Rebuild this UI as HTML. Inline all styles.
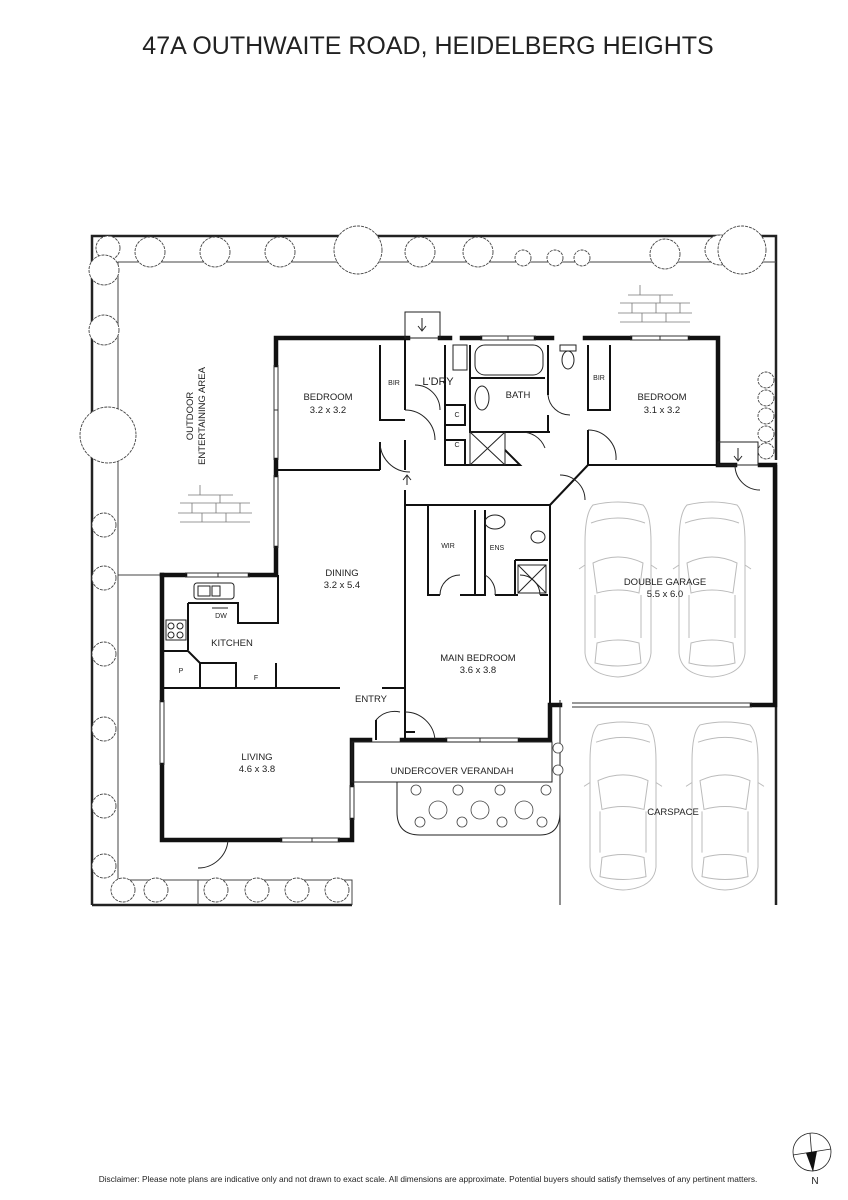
<!DOCTYPE html>
<html><head><meta charset="utf-8"><style>
html,body{margin:0;padding:0;background:#fff;}
svg{display:block;}
text{font-family:"Liberation Sans",Arial,sans-serif;fill:#222;}
</style></head><body>
<svg width="848" height="1200" viewBox="0 0 848 1200" xmlns="http://www.w3.org/2000/svg">
<defs>
<g id="car" fill="none" stroke="#bbb" stroke-width="1">
<path d="M10 2 Q35 -4 60 2 Q68 10 68 40 L68 150 Q66 172 35 174 Q4 172 2 150 L2 40 Q2 10 10 2Z"/>
<path d="M10 60 Q35 48 60 60 L56 90 Q35 84 14 90Z"/>
<path d="M14 140 Q35 134 56 140 L58 160 Q35 166 12 160Z"/>
<path d="M12 92 L12 135 M58 92 L58 135 M8 20 Q35 10 62 20"/>
<path d="M2 62 L-4 66 M68 62 L74 66"/>
</g>
</defs>

<text x="428" y="54" font-size="25" text-anchor="middle" fill="#111">47A OUTHWAITE ROAD, HEIDELBERG HEIGHTS</text>

<!-- boundary -->
<g fill="none" stroke="#222" stroke-width="2.5">
<path d="M92 905 L92 236 L776 236 L776 460"/>
<path d="M776 465 L776 905"/>
<path d="M92 905 L352 905"/>
</g>
<g fill="none" stroke="#444" stroke-width="1">
<path d="M118 880 L118 262 L776 262"/>
<path d="M118 880 L352 880 L352 905"/>
<path d="M198 880 L198 905"/>
<path d="M118 575 L162 575"/>
</g>

<!-- trees -->
<g fill="#fff" stroke="#444" stroke-width="0.9" stroke-dasharray="3 1">
<circle cx="108" cy="248" r="12"/><circle cx="150" cy="252" r="15"/><circle cx="215" cy="252" r="15"/><circle cx="280" cy="252" r="15"/>
<circle cx="358" cy="250" r="24"/><circle cx="420" cy="252" r="15"/><circle cx="478" cy="252" r="15"/><circle cx="523" cy="258" r="8"/><circle cx="555" cy="258" r="8"/><circle cx="582" cy="258" r="8"/>
<circle cx="665" cy="254" r="15"/><circle cx="720" cy="250" r="15"/><circle cx="742" cy="250" r="24"/>
<circle cx="104" cy="270" r="15"/><circle cx="104" cy="330" r="15"/><circle cx="105" cy="426" r="12"/><circle cx="108" cy="435" r="28"/>
<circle cx="104" cy="525" r="12"/><circle cx="104" cy="578" r="12"/><circle cx="104" cy="654" r="12"/><circle cx="104" cy="729" r="12"/><circle cx="104" cy="806" r="12"/><circle cx="104" cy="866" r="12"/>
<circle cx="123" cy="890" r="12"/><circle cx="156" cy="890" r="12"/><circle cx="216" cy="890" r="12"/><circle cx="257" cy="890" r="12"/><circle cx="297" cy="890" r="12"/><circle cx="337" cy="890" r="12"/>
<circle cx="766" cy="380" r="8"/><circle cx="766" cy="398" r="8"/><circle cx="766" cy="416" r="8"/><circle cx="766" cy="434" r="8"/><circle cx="766" cy="451" r="8"/>
</g>

<!-- pavers -->
<g fill="none" stroke="#777" stroke-width="0.8">
<path d="M620 303h70M618 313h74M620 322h70M628 295h45M640 285v10M660 295v8M632 303v10M656 303v10M680 303v10M642 313v9M666 313v9"/>
<path d="M180 503h70M178 513h74M180 522h70M188 495h45M200 485v10M220 495v8M192 503v10M216 503v10M240 503v10M202 513v9M226 513v9"/>
</g>

<!-- thick walls -->
<g fill="none" stroke="#111" stroke-width="4.5" stroke-linecap="square">
<path d="M276 365 L276 338 L408 338"/>
<path d="M276 460 L276 475"/>
<path d="M276 548 L276 575 L250 575"/>
<path d="M162 575 L185 575"/>
<path d="M162 575 L162 700"/>
<path d="M162 765 L162 840 L280 840"/>
<path d="M340 840 L352 840 L352 820"/>
<path d="M352 785 L352 740 L370 740"/>
<path d="M402 740 L445 740 M520 740 L550 740 L550 705 L560 705"/>
<path d="M440 338 L450 338 M462 338 L480 338 M536 338 L552 338 M585 338 L630 338 M690 338 L718 338 L718 465 L735 465"/>
<path d="M760 465 L775 465 L775 705 L752 705"/>
</g>

<!-- windows -->
<g fill="none" stroke="#333" stroke-width="1">
<path d="M274 365 L274 460 M278 365 L278 460 M274 410h4"/>
<path d="M274 475 L274 548 M278 475 L278 548"/>
<path d="M185 573 L250 573 M185 577 L250 577 M218 573v4"/>
<path d="M160 700 L160 765 M164 700 L164 765"/>
<path d="M280 838 L340 838 M280 842 L340 842 M312 838v4"/>
<path d="M350 785 L350 820 M354 785 L354 820"/>
<path d="M445 738 L520 738 M445 742 L520 742 M480 738v4"/>
<path d="M480 336 L536 336 M480 340 L536 340 M508 336v4"/>
<path d="M630 336 L690 336 M630 340 L690 340 M660 336v4"/>
<path d="M572 703 L752 703 M572 707 L752 707"/>
</g>

<!-- thin walls -->
<g fill="none" stroke="#111" stroke-width="2">
<path d="M405 338 L405 410 M380 345 L380 420 L405 420"/>
<path d="M276 470 L380 470 M380 470 L380 442"/>
<path d="M405 440 L405 470 M405 490 L405 505 L550 505"/>
<path d="M405 505 L405 740"/>
<path d="M445 345 L445 465 L520 465 L505 450"/>
<path d="M445 440 L465 440 L465 465 M445 405 L465 405 L465 425 L445 425"/>
<path d="M470 345 L470 432 L550 432 M470 378 L545 378"/>
<path d="M548 345 L548 395 M548 415 L548 432"/>
<path d="M588 345 L588 410 L610 410 L610 345 M588 430 L588 465 L718 465"/>
<path d="M588 465 L550 505"/>
<path d="M550 505 L550 705"/>
<path d="M428 505 L428 595 L440 595 M460 595 L485 595 L485 510 M475 510 L475 595 M495 595 L518 595 M540 595 L548 595"/>
<path d="M515 560 L548 560 M515 560 L515 595"/>
<path d="M162 688 L340 688 M382 688 L405 688"/>
<path d="M188 603 L238 603 L238 623 L278 623 L278 575"/>
<path d="M188 603 L188 650 M162 651 L188 651 L200 663 L200 688 M200 663 L236 663 L236 688 M276 663 L276 688"/>
<path d="M405 712 L405 732 L415 732"/>
<path d="M376 720 L376 740"/>
</g>

<!-- doors, fixtures -->
<g fill="none" stroke="#222" stroke-width="1">
<path d="M405 410 A30 30 0 0 1 435 440"/>
<path d="M380 442 A30 30 0 0 0 410 472"/>
<path d="M415 385 A25 25 0 0 1 440 410"/>
<path d="M520 432 A25 25 0 0 1 545 448"/>
<path d="M548 395 A22 22 0 0 0 570 415"/>
<path d="M588 430 A28 28 0 0 1 616 460"/>
<path d="M405 712 A30 30 0 0 1 435 740"/>
<path d="M376 720 A24 24 0 0 1 400 712"/>
<path d="M440 595 A20 20 0 0 1 460 575 M495 595 A20 20 0 0 0 485 575 M540 595 A20 20 0 0 0 520 575"/>
<path d="M198 868 A30 30 0 0 0 228 840"/>
<path d="M735 465 A25 25 0 0 0 760 490"/>
<path d="M560 475 A25 25 0 0 1 585 500"/>
<rect x="405" y="312" width="35" height="26"/>
<path d="M422 318 L422 330 M418 326 L422 331 L426 326"/>
<rect x="718" y="442" width="40" height="23"/>
<path d="M738 448 L738 460 M734 456 L738 461 L742 456"/>
<path d="M407 485 L407 475 M403 480 L407 475 L411 480"/>
<rect x="453" y="345" width="14" height="25"/>
<rect x="475" y="345" width="68" height="30" rx="10"/>
<ellipse cx="482" cy="398" rx="7" ry="12"/>
<rect x="470" y="432" width="35" height="33"/><path d="M470 432 L505 465 M505 432 L470 465"/>
<rect x="518" y="565" width="28" height="28"/><path d="M518 565 L546 593 M546 565 L518 593"/>
<ellipse cx="568" cy="360" rx="6" ry="9"/><rect x="560" y="345" width="16" height="6"/>
<ellipse cx="495" cy="522" rx="10" ry="7"/><ellipse cx="538" cy="537" rx="7" ry="6"/>
<rect x="194" y="583" width="40" height="16" rx="3"/><rect x="198" y="586" width="12" height="10"/><rect x="212" y="586" width="8" height="10"/>
<path d="M212 608 L228 608"/>
<rect x="166" y="620" width="20" height="20"/><circle cx="171" cy="626" r="3"/><circle cx="180" cy="626" r="3"/><circle cx="171" cy="635" r="3"/><circle cx="180" cy="635" r="3"/>
<rect x="352" y="742" width="200" height="40"/>
<path d="M397 782 L397 812 Q397 835 420 835 L540 835 Q560 835 560 812 L560 742"/>
<path d="M560 700 L560 905"/>
</g>
<g fill="#fff" stroke="#444" stroke-width="0.8">
<circle cx="416" cy="790" r="5"/><circle cx="458" cy="790" r="5"/><circle cx="500" cy="790" r="5"/><circle cx="546" cy="790" r="5"/>
<circle cx="438" cy="810" r="9"/><circle cx="480" cy="810" r="9"/><circle cx="524" cy="810" r="9"/>
<circle cx="420" cy="822" r="5"/><circle cx="462" cy="822" r="5"/><circle cx="502" cy="822" r="5"/><circle cx="542" cy="822" r="5"/>
<circle cx="558" cy="770" r="5"/><circle cx="558" cy="748" r="5"/>
</g>

<use href="#car" transform="translate(583,503)"/>
<use href="#car" transform="translate(677,503)"/>
<use href="#car" transform="translate(588,723) scale(1,0.96)"/>
<use href="#car" transform="translate(690,723) scale(1,0.96)"/>

<g font-size="9.5" text-anchor="middle">
<text x="328" y="400">BEDROOM</text><text x="328" y="413">3.2 x 3.2</text>
<text x="438" y="385" font-size="11">L'DRY</text>
<text x="518" y="398">BATH</text>
<text x="662" y="400">BEDROOM</text><text x="662" y="413">3.1 x 3.2</text>
<text x="342" y="576">DINING</text><text x="342" y="588">3.2 x 5.4</text>
<text x="232" y="646">KITCHEN</text>
<text x="478" y="661">MAIN BEDROOM</text><text x="478" y="673">3.6 x 3.8</text>
<text x="665" y="585">DOUBLE GARAGE</text><text x="665" y="597">5.5 x 6.0</text>
<text x="371" y="702">ENTRY</text>
<text x="257" y="760">LIVING</text><text x="257" y="772">4.6 x 3.8</text>
<text x="452" y="774">UNDERCOVER VERANDAH</text>
<text x="673" y="815">CARSPACE</text>
</g>
<g font-size="7" text-anchor="middle">
<text x="394" y="385">BIR</text><text x="599" y="380">BIR</text>
<text x="457" y="417">C</text><text x="457" y="447">C</text>
<text x="448" y="548">WIR</text><text x="497" y="550">ENS</text>
<text x="221" y="618">DW</text><text x="181" y="673">P</text><text x="256" y="680">F</text>
</g>
<text transform="translate(193,416) rotate(-90)" font-size="9.5" text-anchor="middle">OUTDOOR</text>
<text transform="translate(205,416) rotate(-90)" font-size="9.5" text-anchor="middle">ENTERTAINING AREA</text>

<g fill="none" stroke="#222" stroke-width="0.8">
<circle cx="812" cy="1152" r="19"/>
<path d="M810 1133 L813 1171 M793 1155 L831 1149"/>
</g>
<path d="M806 1153 L817 1151 L813 1172Z" fill="#111"/>
<text x="815" y="1184" font-size="10" text-anchor="middle">N</text>

<text x="428" y="1182" font-size="8.3" text-anchor="middle">Disclaimer: Please note plans are indicative only and not drawn to exact scale. All dimensions are approximate. Potential buyers should satisfy themselves of any pertinent matters.</text>
</svg>
</body></html>
